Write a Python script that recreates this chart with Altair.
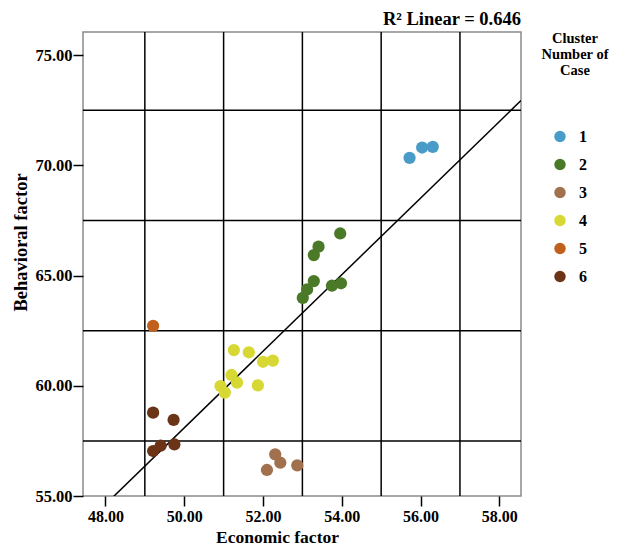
import altair as alt
import pandas as pd

# Data
cluster = ["1"]*3 + ["2"]*8 + ["3"]*4 + ["4"]*9 + ["5"]*1 + ["6"]*5
economic = [55.72, 56.04, 56.31,
            53.96, 53.41, 53.29, 53.29, 53.12, 53.01, 53.75, 53.98,
            52.31, 52.44, 52.10, 52.87,
            51.26, 51.64, 52.00, 52.25, 51.20, 51.34, 50.92, 51.03, 51.87,
            49.21,
            49.21, 49.73, 49.21, 49.40, 49.75]
behavioral = [70.34, 70.81, 70.84,
              66.91, 66.31, 65.93, 64.75, 64.37, 63.99, 64.54, 64.65,
              56.89, 56.51, 56.18, 56.39,
              61.62, 61.52, 61.09, 61.14, 60.49, 60.14, 59.99, 59.69, 60.02,
              62.72,
              58.78, 58.45, 57.04, 57.28, 57.34]
cluster_names = ["1", "2", "3", "4", "5", "6"]
cluster_colors = ["#4a9cc8", "#4a7a28", "#a0714c", "#d8d834", "#c0601c", "#6b3416"]
x_ticks = [48, 50, 52, 54, 56, 58]
y_ticks = [55, 60, 65, 70, 75]
x_grid = [49, 51, 53, 55, 57]
y_grid = [57.5, 62.5, 67.5, 72.5]
x_domain = [47.43, 58.55]
y_domain = [55, 76.05]

df = pd.DataFrame({"Economic factor": economic, "Behavioral factor": behavioral, "Cluster": cluster})
FONT = "Liberation Serif"

xs = alt.Scale(domain=x_domain, nice=False, zero=False)
ys = alt.Scale(domain=y_domain, nice=False, zero=False)

xgrid = alt.Chart(pd.DataFrame({"g": x_grid})).mark_rule(color="black", strokeWidth=1.5).encode(
    x=alt.X("g:Q", scale=xs))
ygrid = alt.Chart(pd.DataFrame({"g": y_grid})).mark_rule(color="black", strokeWidth=1.5).encode(
    y=alt.Y("g:Q", scale=ys))

points = alt.Chart(df).mark_circle(size=150, opacity=1).encode(
    x=alt.X("Economic factor:Q", scale=xs,
            axis=alt.Axis(values=x_ticks, format=".2f", title="Economic factor",
                          titleX=194, titleY=46, titleBaseline="alphabetic", titleFontSize=17.5)),
    y=alt.Y("Behavioral factor:Q", scale=ys,
            axis=alt.Axis(values=y_ticks, format=".2f", title="Behavioral factor",
                          titleX=-57, titleY=210, titleBaseline="alphabetic", titleAngle=270)),
    color=alt.Color("Cluster:N", scale=alt.Scale(domain=cluster_names, range=cluster_colors),
                    legend=alt.Legend(title=["Cluster", "Number of", "Case"], orient="none",
                                      legendX=458, legendY=0)),
)

fit = alt.Chart(df).transform_regression(
    "Economic factor", "Behavioral factor", extent=x_domain
).mark_line(color="black", strokeWidth=1.5, clip=True).encode(
    x=alt.X("Economic factor:Q", scale=xs),
    y=alt.Y("Behavioral factor:Q", scale=ys),
)

chart = alt.layer(xgrid, ygrid, fit, points).properties(
    width=438, height=464,
    title=alt.TitleParams("R² Linear = 0.646", anchor="end", frame="group", font=FONT, fontSize=18.5,
                          fontWeight="bold", color="black", offset=3),
    autosize=alt.AutoSizeParams(type="none"),
    padding={"left": 75, "top": 24, "right": 90, "bottom": 50},
).configure_view(stroke="#8a8a8a", strokeWidth=1.5).configure_axis(
    domain=False, grid=False, tickColor="black", tickSize=10, tickWidth=1.5,
    labelFont=FONT, labelFontSize=16.5, labelFontWeight="bold", labelColor="black",
    titleFont=FONT, titleFontSize=18.5, titleFontWeight="bold", titleColor="black",
).configure_axisX(labelPadding=2, labelFontSize=16).configure_axisY(labelPadding=1).configure_legend(
    titleFont=FONT, titleFontSize=14.5, titleFontWeight="bold", titleColor="black", titleLineHeight=16,
    labelFont=FONT, labelFontSize=16, labelFontWeight="bold", labelColor="black",
    symbolSize=130, rowPadding=12, titlePadding=50, titleAlign="center", titleAnchor="middle",
    symbolStrokeWidth=0, labelOffset=11, symbolOffset=-10,
)

chart.save("out.html", embed_options={"renderer": "svg", "actions": False})
